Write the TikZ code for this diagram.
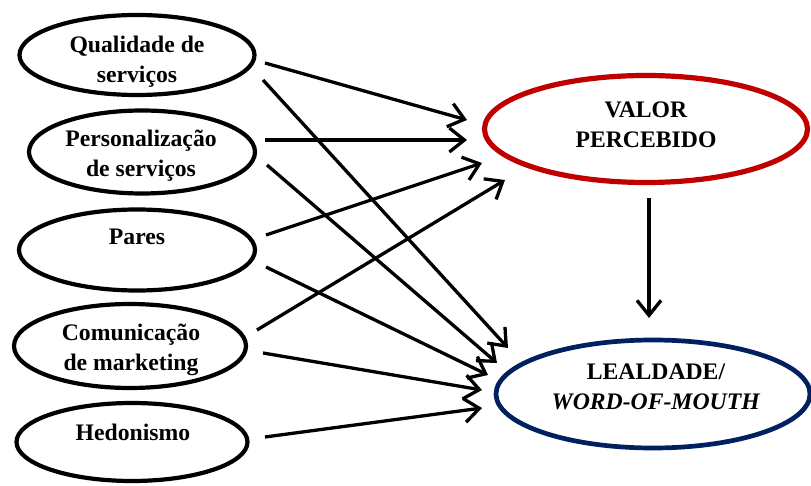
\documentclass[tikz,border=0pt]{standalone}
\usepackage{fontspec}
\setmainfont{Liberation Serif}
\usetikzlibrary{shapes.geometric,arrows.meta,calc}
\definecolor{vred}{HTML}{C00000}
\definecolor{lblue}{HTML}{002060}
\begin{document}
\begin{tikzpicture}[x=1pt,y=-1pt,
  ell/.style={ellipse,draw=black,line width=4.2pt,inner sep=0pt},
  txt/.style={inner sep=0pt,align=center,font=\fontsize{23.7}{30}\selectfont\bfseries},
  arr/.style={line width=3.3pt,-{Straight Barb[length=15pt,width=24pt,line width=3.3pt]}}]
\useasboundingbox (0,0) rectangle (811,486);
\node[ell,minimum width=235,minimum height=80] (q) at (137,55) {};
\node[ell,minimum width=226,minimum height=83] (p) at (142,152) {};
\node[ell,minimum width=236,minimum height=81] (pa) at (137,250) {};
\node[ell,minimum width=232,minimum height=84] (c) at (130,346) {};
\node[ell,minimum width=231,minimum height=78] (h) at (132,442) {};
\node[ell,draw=vred,line width=5.2pt,minimum width=323,minimum height=107] (v) at (646,129) {};
\node[ell,draw=lblue,line width=4.7pt,minimum width=314,minimum height=108] (l) at (653,394) {};
\node[txt] (qt) at (137,62) {Qualidade de\\serviços};
\node[txt] (pt) at (141,156) {Personalização\\de serviços};
\node[txt] (pat) at (137,237) {Pares};
\node[txt] (ct) at (131,350) {Comunicação\\de marketing};
\node[txt] (ht) at (133,432) {Hedonismo};
\node[txt] (vt) at (646,125) {VALOR\\PERCEBIDO};
\node[txt] (lt) at (656,387) {LEALDADE/\\\textit{WORD-OF-MOUTH}};
\draw[arr] ($(q)+(128,8)$) -- ($(v)+(-179,-9)$);
\draw[arr] ($(q)+(126,25)$) -- ($(l)+(-145,-46)$);
\draw[arr] ($(p)+(123,-12)$) -- ($(v)+(-179,11)$);
\draw[arr] ($(p)+(125,13)$) -- ($(l)+(-156,-31)$);
\draw[arr] ($(pa)+(129,-15)$) -- ($(v)+(-164,34)$);
\draw[arr] ($(pa)+(129,17)$) -- ($(l)+(-165,-19)$);
\draw[arr] ($(c)+(127,-16)$) -- ($(v)+(-141,51)$);
\draw[arr] ($(c)+(133,7)$) -- ($(l)+(-171,-4)$);
\draw[arr] ($(h)+(133,-5)$) -- ($(l)+(-171,14)$);
\draw[arr] ($(v)+(3,69)$) -- ($(l)+(-4,-76)$);
\end{tikzpicture}
\end{document}
